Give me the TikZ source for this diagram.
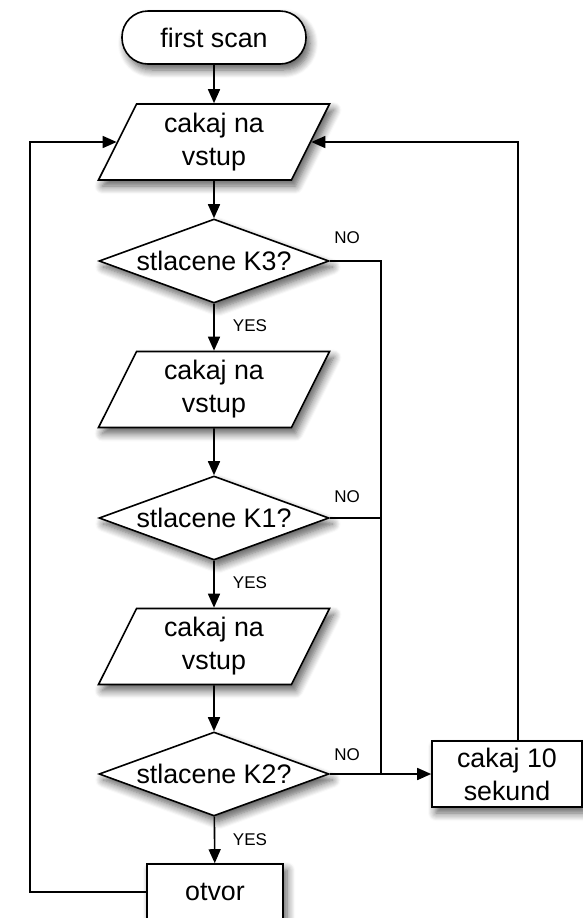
\documentclass[tikz,border=0pt]{standalone}
\usepackage{fontspec}
\setmainfont{Liberation Sans}
\usetikzlibrary{shapes.geometric,arrows.meta,shadows.blur}
\begin{document}
\begin{tikzpicture}[x=0.5pt,y=-0.5pt,
  every node/.style={font=\fontsize{13.4}{16.5}\selectfont},
  box/.style={draw,fill=white,line width=0.8pt,blur shadow={shadow xshift=2pt,shadow yshift=-3pt,shadow blur steps=8,shadow blur radius=4pt,shadow opacity=65}},
  term/.style={box,rectangle,rounded corners=13pt,minimum width=92pt,minimum height=26.5pt},
  io/.style={box,trapezium,trapezium left angle=60,trapezium right angle=120,trapezium stretches body,minimum width=115.5pt,minimum height=38pt,align=center,inner sep=2pt},
  test/.style={box,diamond,aspect=2.74,inner sep=0pt,minimum width=115pt,minimum height=42pt},
  proc/.style={box,rectangle,align=center},
  lbl/.style={font=\fontsize{8.5}{10}\selectfont},
  ln/.style={line width=0.8pt},
  arr/.style={line width=0.8pt,-{Triangle[length=7pt,width=6pt]}}]
\useasboundingbox (0,0) rectangle (583,918);
\node[term] (1) at (214,37.5) {first scan};
\node[io] (2) at (214,142) {cakaj na\\vstup};
\node[test] (3) at (214,261) {stlacene K3?};
\node[io] (4) at (214,389.5) {cakaj na\\vstup};
\node[test] (5) at (214,518) {stlacene K1?};
\node[io] (6) at (214,646.5) {cakaj na\\vstup};
\node[test] (7) at (214,774) {stlacene K2?};
\node[proc,minimum width=68pt,minimum height=28pt] (8) at (215,892) {otvor};
\node[proc,minimum width=75pt,minimum height=33pt] (9) at (507,774) {cakaj 10\\sekund};
\coordinate (a) at (30,892);
\coordinate (b) at (381,774);
\coordinate (c) at (518,142);
\path[draw,arr] (1) -- (2);
\path[draw,arr] (2) -- (3);
\path[draw,arr] (3) -- (4);
\path[draw,arr] (4) -- (5);
\path[draw,arr] (5) -- (6);
\path[draw,arr] (6) -- (7);
\path[draw,arr] (7) -- (8);
\path[draw,ln] (3.east) -| (b);
\path[draw,ln] (5.east) -- (5.east -| b);
\path[draw,arr] (7.east) -- (9.west);
\path[draw,arr] (9.north -| c) -- (c) -- (2.right side);
\path[draw,arr] (8.west) -- (a) |- (2.left side);
\node[lbl] at (347,238) {NO};
\node[lbl] at (347,497) {NO};
\node[lbl] at (347,755) {NO};
\node[lbl] at (250,326) {YES};
\node[lbl] at (250,583) {YES};
\node[lbl] at (250,840) {YES};
\end{tikzpicture}
\end{document}
